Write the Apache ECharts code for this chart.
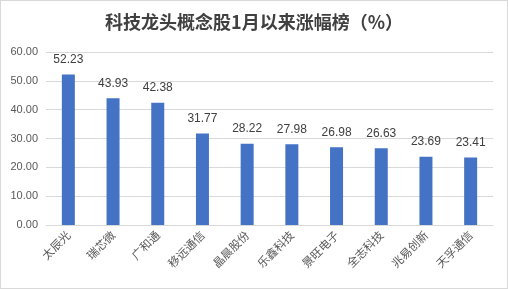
<!DOCTYPE html>
<html><head><meta charset="utf-8">
<script src="https://cdn.jsdelivr.net/npm/echarts@6/dist/echarts.min.js"></script>
<style>html,body{margin:0;padding:0;background:#fff}#c{width:508px;height:289px;box-sizing:border-box;border:1px solid #d9d9d9}</style>
</head><body><div id="c"></div>
<script>
const categories = ['太辰光','瑞芯微','广和通','移远通信','晶晨股份','乐鑫科技','景旺电子','全志科技','兆易创新','天孚通信'];
const values = [52.23,43.93,42.38,31.77,28.22,27.98,26.98,26.63,23.69,23.41];
const titleText = '科技龙头概念股1月以来涨幅榜（%）';
const chart = echarts.init(document.getElementById('c'));
chart.setOption({
  animation:false,
  title:{text:titleText,left:'center',top:7,textStyle:{fontFamily:'Noto Sans CJK SC',fontSize:18,fontWeight:'bold',color:'#404040'}},
  grid:{left:45,right:14,top:51,bottom:63},
  xAxis:{type:'category',data:categories,axisTick:{show:false},axisLine:{lineStyle:{color:'#d9d9d9'}},
    axisLabel:{rotate:45,interval:0,fontFamily:'Noto Sans CJK SC',fontSize:11.5,color:'#595959',margin:8}},
  yAxis:{type:'value',min:0,max:60,interval:10,axisLine:{show:false},axisTick:{show:false},
    splitLine:{lineStyle:{color:'#d9d9d9'}},
    axisLabel:{formatter:v=>v.toFixed(2),fontFamily:'Liberation Sans',fontSize:11,color:'#595959',margin:8}},
  series:[{type:'bar',data:values,barWidth:13,itemStyle:{color:'#4472c4'},
    label:{show:true,position:'top',distance:9,fontFamily:'Liberation Sans',fontSize:12,color:'#404040',formatter:p=>p.value.toFixed(2)}}]
});
</script></body></html>
